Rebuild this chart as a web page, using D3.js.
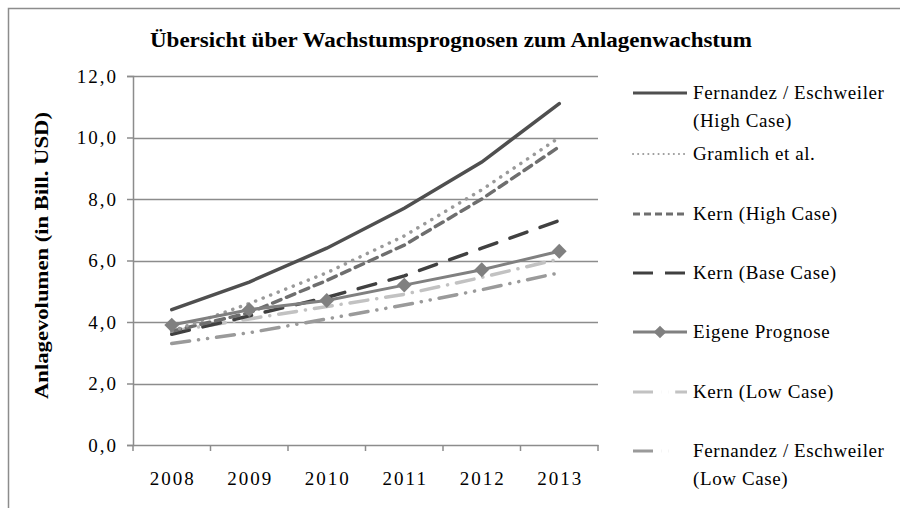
<!DOCTYPE html>
<html>
<head>
<meta charset="utf-8" />
<title>Wachstumsprognosen</title>
<script src="https://d3js.org/d3.v7.min.js"></script>
<style>
  body { margin: 0; background: #ffffff; }
  text { font-family: "Liberation Serif", "Times New Roman", serif; fill: #000; }
</style>
</head>
<body>
<svg id="chart"></svg>
<script>
// categories and series
var years = ["2008", "2009", "2010", "2011", "2012", "2013"];
var yTicks = [0, 2, 4, 6, 8, 10, 12];

var fernandezHigh = [4.4, 5.3, 6.4, 7.7, 9.2, 11.1];
var gramlich      = [3.7, 4.6, 5.6, 6.8, 8.3, 10.0];
var kernHigh      = [3.7, 4.3, 5.35, 6.5, 8.0, 9.7];
var kernBase      = [3.6, 4.2, 4.8, 5.5, 6.4, 7.3];
var eigene        = [3.9, 4.4, 4.7, 5.2, 5.7, 6.3];
var kernLow       = [3.7, 4.1, 4.5, 4.9, 5.45, 6.05];
var fernandezLow  = [3.3, 3.65, 4.1, 4.55, 5.05, 5.6];

var seriesNames = [
  ["Fernandez / Eschweiler", "(High Case)"],
  ["Gramlich et al."],
  ["Kern (High Case)"],
  ["Kern (Base Case)"],
  ["Eigene Prognose"],
  ["Kern (Low Case)"],
  ["Fernandez / Eschweiler", "(Low Case)"]
];

var styles = [
  { color: "#4f4f4f", width: 3.5, dash: null },
  { color: "#9a9a9a", width: 3.5, dash: "0.1 8" },
  { color: "#6e6e6e", width: 3.5, dash: "9 6" },
  { color: "#404040", width: 3.5, dash: "18 14" },
  { color: "#808080", width: 3, dash: null, marker: true },
  { color: "#c2c2c2", width: 3.5, dash: "18 9 0.1 9" },
  { color: "#9a9a9a", width: 3.5, dash: "18 9 0.1 9 0.1 9" }
];
var legendDash = [null, "0.1 5", "7 4", "20 12", null, "20 8 0.1 7 0.1 7", "20 8 0.1 7 0.1 30"];

var series = [fernandezHigh, gramlich, kernHigh, kernBase, eigene, kernLow, fernandezLow];

var width = 900, height = 508;
var margin = { top: 76, right: 302, bottom: 63, left: 133 };

var svg = d3.select("#chart").attr("width", width).attr("height", height);

// outer chart border (cropped on right/bottom)
svg.append("path")
  .attr("d", "M8.5," + height + "V8.5H" + width)
  .attr("fill", "none")
  .attr("stroke", "#8c8c8c")
  .attr("stroke-width", 1.5);

svg.append("text")
  .attr("x", 451).attr("y", 47)
  .attr("text-anchor", "middle")
  .attr("font-size", "21px")
  .attr("font-weight", "bold")
  .attr("textLength", 602)
  .attr("lengthAdjust", "spacingAndGlyphs")
  .text("Übersicht über Wachstumsprognosen zum Anlagenwachstum");

var x = d3.scaleBand()
  .domain(years)
  .range([margin.left, width - margin.right]);

var y = d3.scaleLinear()
  .domain([0, 12])
  .range([height - margin.bottom, margin.top]);

// gridlines
svg.append("g").selectAll("line")
  .data(yTicks.filter(function(d) { return d > 0; }))
  .enter().append("line")
  .attr("x1", margin.left).attr("x2", width - margin.right)
  .attr("y1", function(d) { return Math.round(y(d)) + 0.5; })
  .attr("y2", function(d) { return Math.round(y(d)) + 0.5; })
  .attr("stroke", "#8c8c8c")
  .attr("stroke-width", 1.5);

var yAxis = d3.axisLeft(y)
  .tickValues(yTicks)
  .tickSize(6)
  .tickPadding(9)
  .tickFormat(function(d) { return d3.format(".1f")(d).replace(".", ","); });

svg.append("g")
  .attr("transform", "translate(" + margin.left + ",0)")
  .call(yAxis)
  .call(function(g) {
    g.select(".domain").attr("stroke", "#8c8c8c").attr("stroke-width", 1.5);
    g.selectAll(".tick line").attr("stroke", "#8c8c8c").attr("stroke-width", 1.5);
    g.selectAll(".tick text").attr("font-size", "19px").attr("font-family", "Liberation Serif")
      .attr("letter-spacing", "2px");
  });

var xAxis = d3.axisBottom(x).tickSize(0).tickPadding(27);

var xg = svg.append("g")
  .attr("transform", "translate(0," + y(0) + ")")
  .call(xAxis)
  .call(function(g) {
    g.select(".domain").attr("stroke", "#8c8c8c").attr("stroke-width", 1.5);
    g.selectAll(".tick text").attr("font-size", "19px").attr("font-family", "Liberation Serif")
      .attr("letter-spacing", "2px").attr("dx", "1px");
  });

// category boundary ticks
xg.selectAll(".bound")
  .data(d3.range(years.length + 1))
  .enter().append("line")
  .attr("x1", function(i) { return margin.left + i * x.step(); })
  .attr("x2", function(i) { return margin.left + i * x.step(); })
  .attr("y1", 0).attr("y2", 6)
  .attr("stroke", "#8c8c8c")
  .attr("stroke-width", 1.5);

svg.append("text")
  .attr("transform", "translate(48," + (y(6) - 5) + ") rotate(-90)")
  .attr("text-anchor", "middle")
  .attr("font-size", "19px")
  .attr("font-weight", "bold")
  .attr("textLength", 287)
  .attr("lengthAdjust", "spacingAndGlyphs")
  .text("Anlagevolumen (in Bill. USD)");

var line = d3.line()
  .x(function(d, i) { return x(years[i]) + x.bandwidth() / 2; })
  .y(function(d) { return y(d); });

var diamond = d3.symbol().type(d3.symbolSquare).size(110);

// draw low cases first so the high cases stay on top
var order = [6, 5, 3, 2, 1, 0, 4];
order.forEach(function(k) {
  var st = styles[k];
  svg.append("path")
    .datum(series[k])
    .attr("d", line)
    .attr("fill", "none")
    .attr("stroke", st.color)
    .attr("stroke-width", st.width)
    .attr("stroke-linecap", "round")
    .attr("stroke-dasharray", st.dash);
  if (st.marker) {
    svg.append("g").selectAll("path")
      .data(series[k])
      .enter().append("path")
      .attr("d", diamond)
      .attr("transform", function(d, i) {
        return "translate(" + (x(years[i]) + x.bandwidth() / 2) + "," + y(d) + ") rotate(45)";
      })
      .attr("fill", st.color);
  }
});

// legend
var legend = svg.append("g");
var legendY = [93, 154, 214, 273, 332, 392, 451];
seriesNames.forEach(function(name, k) {
  var st = styles[k];
  var ly = legendY[k];
  legend.append("line")
    .attr("x1", 633).attr("x2", 687)
    .attr("y1", ly).attr("y2", ly)
    .attr("stroke", st.color)
    .attr("stroke-width", k === 1 ? 2 : 3)
    .attr("stroke-linecap", k === 1 ? "round" : "butt")
    .attr("stroke-dasharray", legendDash[k]);
  if (st.marker) {
    legend.append("path")
      .attr("d", d3.symbol().type(d3.symbolSquare).size(80))
      .attr("transform", "translate(660," + ly + ") rotate(45)")
      .attr("fill", st.color);
  }
  name.forEach(function(t, j) {
    legend.append("text")
      .attr("x", 693)
      .attr("y", ly + 6 + j * 28)
      .attr("font-size", "19px")
      .attr("letter-spacing", "0.6px")
      .text(t);
  });
});
</script>
</body>
</html>
